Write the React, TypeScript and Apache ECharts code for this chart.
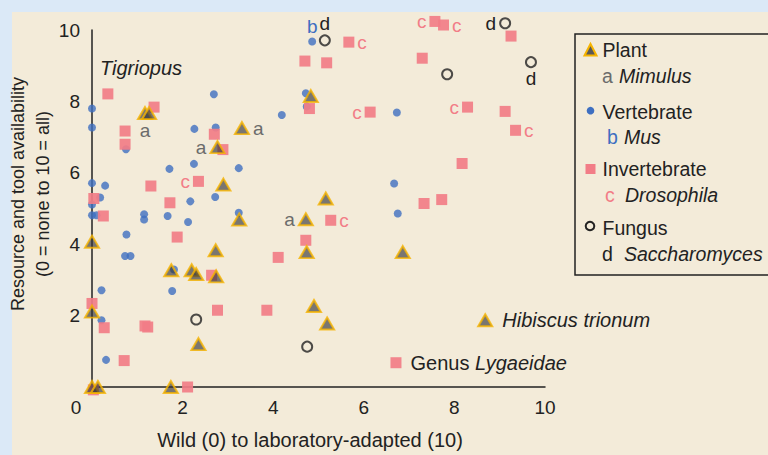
import React, { useEffect, useRef } from 'react';
import * as echarts from 'echarts';

const FONT = '"Liberation Sans", Arial, Helvetica, sans-serif';

// [x, y, tag?, labelPosition?]
type Pt = [number, number, string?, string?];

const plantPoints: Pt[] = [
  [1.17, 7.67, 'a', 'bottom'], [1.26, 7.67], [2.77, 6.72, 'a', 'left'], [3.31, 7.25, 'a', 'right'],
  [2.9, 5.67], [4.83, 8.15], [5.16, 5.28], [3.25, 4.69], [4.72, 4.7, 'a', 'left'],
  [0, 4.07], [2.73, 3.83], [4.74, 3.78], [6.86, 3.78], [1.75, 3.27], [2.2, 3.27],
  [2.3, 3.16], [2.74, 3.1], [0, 2.11], [4.9, 2.27], [5.19, 1.78], [2.35, 1.2],
  [8.68, 1.87, '{i|Hibiscus trionum}', 'right'], [0, 0], [0.13, 0], [1.74, 0],
];

const vertebratePoints: Pt[] = [
  [0, 7.8], [0, 7.27], [0, 5.71], [0.29, 5.64], [0.75, 6.66], [2.69, 8.2], [2.26, 7.23],
  [2.73, 7.27], [3.24, 6.13], [2.25, 6.25], [1.71, 6.11], [0.18, 5.31], [0, 5.11],
  [2.17, 5.2], [2.72, 5.32], [3.24, 4.88], [0, 4.81], [0.1, 4.81], [1.15, 4.84],
  [1.15, 4.69], [1.67, 4.79], [2.12, 4.62], [0.76, 4.27], [0.73, 3.67], [0.85, 3.67],
  [1.81, 3.29], [0.21, 2.71], [1.77, 2.69], [0.21, 1.87], [0.31, 0.76],
  [4.86, 9.68, 'b', 'top'], [4.72, 8.23], [4.74, 7.86], [4.19, 7.62], [6.73, 7.69],
  [6.67, 5.7], [6.75, 4.86],
];

const invertebratePoints: Pt[] = [
  [0.35, 8.21], [1.37, 7.84], [0.73, 7.17], [0.73, 6.8], [2.7, 7.08], [2.89, 6.65],
  [1.3, 5.63], [2.35, 5.76, 'c', 'left'], [0.04, 5.28], [0.25, 4.79], [1.72, 5.16],
  [1.88, 4.2], [2.64, 3.13], [0, 2.34], [0.27, 1.66], [1.17, 1.71], [1.23, 1.68],
  [2.77, 2.15], [0.71, 0.74], [0.03, -0.08], [2.11, 0], [5.67, 9.66, 'c', 'right'],
  [4.7, 9.13], [5.18, 9.08], [7.57, 10.24, 'c', 'left'], [7.76, 10.14, 'c', 'right'],
  [7.29, 9.21], [9.25, 9.83], [4.8, 7.8], [6.14, 7.7, 'c', 'left'], [8.29, 7.84, 'c', 'left'],
  [9.12, 7.72], [9.35, 7.19, 'c', 'right'], [8.17, 6.26], [7.33, 5.14], [7.72, 5.25],
  [5.27, 4.67, 'c', 'right'], [4.72, 4.11], [4.11, 3.63], [3.86, 2.15],
  [6.71, 0.68, 'Genus {i|Lygaeidae}', 'right'],
];

const fungusPoints: Pt[] = [
  [5.14, 9.71, 'd', 'top'], [9.12, 10.19, 'd', 'left'], [9.69, 9.1, 'd', 'bottom'],
  [7.84, 8.76], [2.3, 1.89], [4.75, 1.13],
];

const xTicks = [0, 2, 4, 6, 8, 10];
const yTicks = [0, 2, 4, 6, 8, 10];

const legendRows = [
  { name: 'Plant', letter: 'a', genus: 'Mimulus' },
  { name: 'Vertebrate', letter: 'b', genus: 'Mus' },
  { name: 'Invertebrate', letter: 'c', genus: 'Drosophila' },
  { name: 'Fungus', letter: 'd', genus: 'Saccharomyces' },
];

const C = {
  bgBlue: '#dbe9f7',
  beige: '#f3ebd9',
  text: '#222222',
  blue: '#3e6fc1',
  pink: '#f27d87',
  triFill: 'rgba(52,52,54,0.8)',
  triStroke: '#f6b400',
  gray: '#6b6b6b',
};

const letterColor: Record<string, string> = { a: C.gray, b: C.blue, c: C.pink, d: C.text };

function toData(pts: Pt[], color: string) {
  return pts.map(([x, y, tag, pos]) => {
    if (!tag) return [x, y];
    const long = tag.length > 1;
    const p = pos || 'right';
    return {
      value: [x, y],
      label: {
        show: true,
        formatter: tag,
        position: p,
        distance: long ? 9 : p === 'top' || p === 'bottom' ? 1 : 3,
        color: long ? C.text : color,
        opacity: 1,
        fontSize: long ? 20 : 19,
        fontFamily: FONT,
        rich: { i: { fontStyle: 'italic', fontSize: 20, fontFamily: FONT, color: C.text, opacity: 1 } },
      },
    };
  });
}

export default function App() {
  const ref = useRef<HTMLDivElement>(null);
  useEffect(() => {
    if (!ref.current) return;
    const chart = echarts.init(ref.current, undefined, { renderer: 'svg' });
    const txt = (x: number, y: number, text: string, extra: any = {}) => ({
      type: 'text',
      x,
      y,
      style: {
        text,
        fill: C.text,
        fontSize: 19.5,
        fontFamily: FONT,
        verticalAlign: 'middle',
        align: 'left',
        ...extra,
      },
    });
    const rowY = [[49.5, 76], [111.5, 137], [169.3, 195], [228.3, 253.7]];
    const letterX = [602, 607, 605, 602];
    const genusX = [619, 624, 625, 624];
    const legendEls: any[] = [];
    legendRows.forEach((r, i) => {
      legendEls.push(txt(602.5, rowY[i][0], r.name));
      legendEls.push(txt(letterX[i], rowY[i][1], r.letter, { fill: letterColor[r.letter] }));
      legendEls.push(txt(genusX[i], rowY[i][1], r.genus, { fontStyle: 'italic' }));
    });
    chart.setOption({
      animation: false,
      backgroundColor: C.bgBlue,
      grid: { left: 92, right: 223, top: 30, bottom: 68, containLabel: false },
      xAxis: {
        type: 'value',
        min: xTicks[0],
        max: xTicks[xTicks.length - 1],
        interval: 2,
        axisLine: { show: true, lineStyle: { color: C.text, width: 1.5 } },
        axisTick: { show: false },
        splitLine: { show: false },
        axisLabel: {
          margin: 11,
          color: C.text,
          fontSize: 19,
          fontFamily: FONT,
          formatter: (v: number) => (v === 0 ? '{z|0}' : String(v)),
          rich: { z: { padding: [0, 32, 0, 0], fontSize: 19, fontFamily: FONT, color: C.text } },
        },
      },
      yAxis: {
        type: 'value',
        min: yTicks[0],
        max: yTicks[yTicks.length - 1],
        interval: 2,
        axisLine: { show: true, lineStyle: { color: C.text, width: 1.5 } },
        axisTick: { show: false },
        splitLine: { show: false },
        axisLabel: {
          margin: 12,
          color: C.text,
          fontSize: 19,
          fontFamily: FONT,
          formatter: (v: number) => (v === 0 ? '' : String(v)),
        },
      },
      graphic: [
        {
          type: 'rect',
          z: -100,
          silent: true,
          shape: { x: 12, y: 12, width: 800, height: 500 },
          style: { fill: C.beige },
        },
        txt(100, 68, 'Tigriopus', { fontStyle: 'italic', fontSize: 20 }),
        txt(310, 440, 'Wild (0) to laboratory-adapted (10)', { align: 'center', fontSize: 20 }),
        {
          type: 'text',
          x: 30,
          y: 194,
          rotation: Math.PI / 2,
          style: {
            text: 'Resource and tool availability\n(0 = none to 10 = all)',
            fill: C.text,
            fontSize: 18,
            lineHeight: 25,
            fontFamily: FONT,
            align: 'center',
            verticalAlign: 'middle',
          },
        },
        {
          type: 'rect',
          shape: { x: 575, y: 34, width: 240, height: 241 },
          style: { fill: 'none', stroke: C.text, lineWidth: 1.5 },
        },
        {
          type: 'polygon',
          shape: { points: [[584.5, 55.5], [596.5, 55.5], [590.5, 44]] },
          style: { fill: C.triFill, stroke: C.triStroke, lineWidth: 2 },
        },
        { type: 'circle', shape: { cx: 590.5, cy: 110.7, r: 3.8 }, style: { fill: C.blue } },
        { type: 'rect', shape: { x: 585.5, y: 164, width: 10, height: 10 }, style: { fill: C.pink } },
        {
          type: 'circle',
          shape: { cx: 590, cy: 226, r: 4.3 },
          style: { fill: 'none', stroke: C.text, lineWidth: 2 },
        },
        ...legendEls,
      ],
      series: [
        {
          type: 'scatter',
          name: 'Vertebrate',
          clip: false,
          symbol: 'circle',
          symbolSize: 8,
          itemStyle: { color: C.blue },
          data: toData(vertebratePoints, C.blue),
        },
        {
          type: 'scatter',
          name: 'Invertebrate',
          clip: false,
          symbol: 'rect',
          symbolSize: 11,
          itemStyle: { color: C.pink, opacity: 0.92 },
          data: toData(invertebratePoints, C.pink),
        },
        {
          type: 'scatter',
          name: 'Plant',
          clip: false,
          symbol: 'triangle',
          symbolSize: [14, 12],
          itemStyle: { color: C.triFill, borderColor: C.triStroke, borderWidth: 2 },
          data: toData(plantPoints, C.gray),
        },
        {
          type: 'scatter',
          name: 'Fungus',
          clip: false,
          symbol: 'circle',
          symbolSize: 10,
          itemStyle: { color: 'rgba(0,0,0,0)', borderColor: C.text, borderWidth: 2 },
          data: toData(fungusPoints, C.text),
        },
      ],
    });
    return () => chart.dispose();
  }, []);
  return (
    <div
      ref={ref}
      style={{ position: 'absolute', left: 0, top: 0, width: 768, height: 455 }}
    />
  );
}
